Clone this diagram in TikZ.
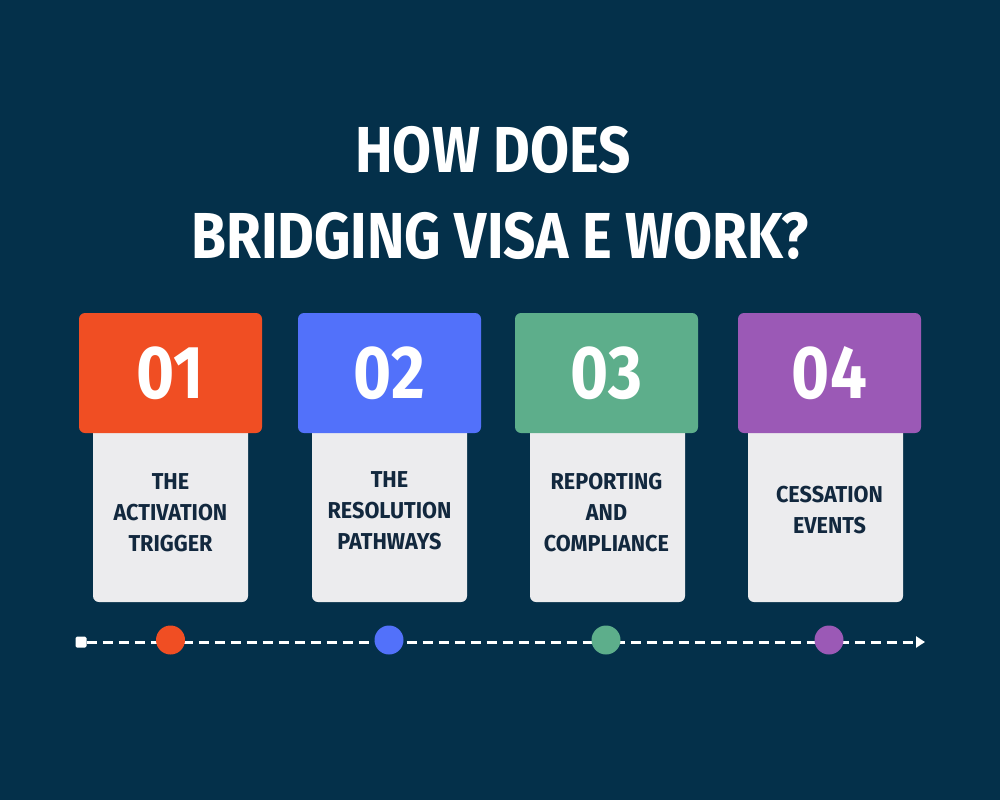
\documentclass[tikz,border=0pt]{standalone}
\usepackage{fontspec}
\usetikzlibrary{arrows.meta}
\newfontfamily\cf[FakeStretch=0.87]{Fira Sans}
\newfontfamily\bodyfnt[FakeStretch=0.94]{Fira Sans}
\definecolor{navy}{RGB}{4,48,74}
\definecolor{cardgray}{RGB}{236,236,238}
\definecolor{cA}{RGB}{240,78,35}
\definecolor{cB}{RGB}{82,113,250}
\definecolor{cC}{RGB}{93,174,139}
\definecolor{cD}{RGB}{155,89,182}
\definecolor{textnavy}{RGB}{18,40,62}
\tikzset{
  numbox/.style={minimum width=183pt, minimum height=120pt, rounded corners=6pt, inner sep=0pt, text=white, font=\cf\bfseries\fontsize{75}{75}\selectfont},
  bodybox/.style={fill=cardgray, minimum width=155pt, minimum height=182pt, rounded corners=6pt, inner sep=0pt},
  bodytext/.style={align=center, text=textnavy, font=\bodyfnt\bfseries\fontsize{23}{31}\selectfont},
  titletext/.style={text=white, font=\cf\bfseries\fontsize{65}{65}\selectfont, inner sep=0pt},
  dot/.style={circle, minimum size=29pt, inner sep=0pt},
  startsq/.style={fill=white, minimum size=11pt, inner sep=0pt, rounded corners=1.5pt},
  timeline/.style={white, line width=3pt, dash pattern=on 10pt off 6pt, -{Triangle[width=11pt,length=9pt]}}
}
\begin{document}
\begin{tikzpicture}[x=1pt,y=-1pt]
\fill[navy] (0,0) rectangle (1000,800);
\useasboundingbox (0,0) rectangle (1000,800);
% title
\node[titletext, anchor=base] (title1) at (493,172) {HOW DOES};
\node[titletext, anchor=base] (title2) at (500,258) {BRIDGING VISA E WORK?};
% cards
\foreach \i/\x/\bx/\ty/\c/\n/\t in {1/170.5/170.5/513/cA/01/{THE\\ACTIVATION\\TRIGGER},
                           2/389.5/389.5/511/cB/02/{THE\\RESOLUTION\\PATHWAYS},
                           3/606.5/607.5/513/cC/03/{REPORTING\\AND\\COMPLIANCE},
                           4/829.5/825.5/510/cD/04/{CESSATION\\EVENTS}}{
  \node[bodybox] (body\i) at (\bx,511) {};
  \node[numbox, fill=\c] (num\i) at (\x,373) {\n};
  \node[bodytext] (txt\i) at (\x,\ty) {\t};
}
% timeline
\node[startsq] (start) at (81,642) {};
\coordinate (end) at (925,642);
\draw[timeline] (start.east) -- (end);
\node[dot, fill=cA] (dot1) at (170.5,640) {};
\node[dot, fill=cB] (dot2) at (389,640) {};
\node[dot, fill=cC] (dot3) at (606,640) {};
\node[dot, fill=cD] (dot4) at (829,640) {};
\end{tikzpicture}
\end{document}
